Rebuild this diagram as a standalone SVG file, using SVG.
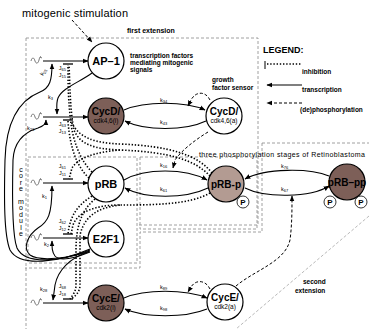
<svg xmlns="http://www.w3.org/2000/svg" width="369" height="329" viewBox="0 0 369 329">
<defs>
<style>
text{font-family:"Liberation Sans",Arial,sans-serif;fill:#000}
.b{font-weight:bold}
.sm{font-size:6.5px;font-weight:bold}
.k{font-size:5.5px}
.nd{stroke:#000;stroke-width:1.2}
.sol{stroke:#000;stroke-width:1.1;fill:none}
.dot{stroke:#000;stroke-width:1.6;stroke-dasharray:1.4 1.8;fill:none}
.dsh{stroke:#000;stroke-width:1;stroke-dasharray:3 2;fill:none}
.box{stroke:#888;stroke-width:0.8;stroke-dasharray:3 2;fill:none}
</style>
<marker id="ar" viewBox="0 0 10 10" refX="9" refY="5" markerWidth="6" markerHeight="6" orient="auto" markerUnits="userSpaceOnUse">
<path d="M0,1 L10,5 L0,9 z" fill="#000"/>
</marker>
<path id="sq" d="M0,3 c1,-4 3,-4 4,0 c1,3 3,3 4,-1 c0.5,-2 1,-4 2,-3 M9,-1 l2,1" fill="none" stroke="#555" stroke-width="0.8"/>
</defs>

<!-- boxes -->
<g id="boxes">
<path class="box" d="M26,38 H258 V225 H138"/>
<path class="box" d="M28,157 H137 V263 H28 Z"/>
<path class="box" d="M140,157 H257 V229 H140 Z"/>
<path class="box" d="M262,143 H369 M262,143 V232 H140 V268 H25 M26,38 V329"/>
<path d="M369,216 L236,329" stroke="#999" stroke-width="0.7" stroke-dasharray="3 2" fill="none"/>
</g>

<text x="22" y="17" font-size="11" textLength="106">mitogenic stimulation</text>
<text x="127" y="33" font-size="7" class="b">first extension</text>
<text x="130" y="58" class="sm">transcription factors</text>
<text x="130" y="65" class="sm">mediating mitogenic</text>
<text x="130" y="72" class="sm">signals</text>
<text x="212" y="82" class="sm">growth</text>
<text x="212" y="90" class="sm">factor sensor</text>
<text x="199" y="157" font-size="7" textLength="166">three phosphorylation stages of Retinoblastoma</text>
<text x="303" y="284" class="sm">second</text>
<text x="295" y="293" class="sm">extension</text>
<text x="21" y="166" font-size="7" letter-spacing="-0.6" style="writing-mode:vertical-rl;text-orientation:upright">core module</text>

<!-- legend -->
<g id="legend">
<text x="263" y="53" font-size="9" class="b">LEGEND:</text>
<line x1="265" y1="61" x2="265" y2="69" stroke="#000" stroke-width="1"/>
<line x1="267" y1="64" x2="302" y2="64" class="dot" stroke-width="1.2"/>
<text x="302" y="74" class="sm">inhibition</text>
<line x1="302" y1="85" x2="267" y2="85" class="sol" stroke-width="1.4" marker-end="url(#ar)"/>
<text x="302" y="92" class="sm">transcription</text>
<line x1="302" y1="103" x2="267" y2="103" class="dsh" marker-end="url(#ar)"/>
<text x="300" y="112" class="sm">(de)phosphorylation</text>
</g>

<!-- connectors -->
<g id="connectors">
<path class="dsh" d="M72,20 L92,42" marker-end="url(#ar)"/>
<!-- inputs -->
<use href="#sq" x="31" y="58"/>
<line class="sol" x1="43" y1="61" x2="88" y2="61" stroke="#555" marker-end="url(#ar)"/>
<use href="#sq" x="31" y="114"/>
<line class="sol" x1="43" y1="117" x2="88" y2="117" marker-end="url(#ar)"/>
<use href="#sq" x="31" y="180"/>
<line class="sol" x1="43" y1="183" x2="88" y2="183" marker-end="url(#ar)"/>
<use href="#sq" x="31" y="235"/>
<line class="sol" x1="43" y1="238" x2="88" y2="238" marker-end="url(#ar)"/>
<use href="#sq" x="31" y="300"/>
<line class="sol" x1="43" y1="303" x2="88" y2="303" marker-end="url(#ar)"/>
<!-- T bars -->
<g stroke="#000" stroke-width="1.3">
<line x1="63" y1="64" x2="73" y2="64"/>
<line x1="63" y1="120" x2="73" y2="120"/>
<line x1="63" y1="179" x2="73" y2="179"/>
<line x1="63" y1="234" x2="73" y2="234"/>
<line x1="63" y1="299" x2="73" y2="299"/>
</g>
<!-- dotted inhibitions -->
<path class="dot" d="M92,172 C80,160 72,140 70,115 C68,95 68,80 68,65"/>
<path class="dot" d="M89,178 C78,168 70,150 68,121"/>
<path class="dot" d="M210,176 C195,160 170,152 120,150 C95,149 80,145 74,130 C70,110 70,85 69,65"/>
<path class="dot" d="M212,173 C198,155 170,146 120,144 C95,143 78,138 71,121"/>
<path class="dot" d="M120,150 C95,152 78,158 72,168 L69,179"/>
<path class="dot" d="M92,196 C78,205 70,215 68,234"/>
<path class="dot" d="M95,199 C82,210 76,225 76,250 V285 C76,292 72,296 70,299"/>
<path class="dot" d="M210,193 C190,205 150,205 120,205 C95,205 78,212 73,225 L71,234"/>
<path class="dot" d="M120,205 C95,208 84,218 80,235 V285 C80,293 74,297 71,299"/>
<!-- transcription -->
<path class="sol" d="M92,73 C80,82 62,88 58,98 C56,103 57,108 57,114" marker-end="url(#ar)"/>
<path class="sol" d="M90,249 C60,262 20,268 10,250 C4,235 4,200 5,160 C6,120 20,100 40,92 C50,88 52,80 52,64" marker-end="url(#ar)"/>
<path class="sol" d="M90,250 C60,262 25,265 17,248 C12,235 12,200 13,160 C14,140 25,132 38,128 C44,126 46,124 46,120" marker-end="url(#ar)"/>
<path class="sol" d="M90,251 C70,258 40,262 30,255 C22,248 28,235 38,228 C48,222 52,215 52,186" marker-end="url(#ar)"/>
<path class="sol" d="M90,252 C75,258 60,262 55,256 C52,252 52,248 52,241" marker-end="url(#ar)"/>
<path class="sol" d="M88,252 C70,258 58,270 55,285 L53,300" marker-end="url(#ar)"/>
<!-- CycD reactions -->
<path class="sol" d="M124,110 C145,101 185,101 205,110" marker-end="url(#ar)"/>
<path class="sol" d="M206,121 C185,131 145,131 125,121" marker-end="url(#ar)"/>
<path class="dsh" d="M210,100 C205,90 195,92 191,100 L188,106" marker-end="url(#ar)"/>
<!-- pRB reactions -->
<path class="sol" d="M124,180 C145,168 185,168 207,180" marker-end="url(#ar)"/>
<path class="sol" d="M208,188 C185,199 145,199 125,188" marker-end="url(#ar)"/>
<path class="dsh" d="M208,132 C195,140 182,150 175,160 L173,168" marker-end="url(#ar)"/>
<path class="sol" d="M329,176 C310,168 265,168 245,179" marker-end="url(#ar)"/>
<path class="sol" d="M245,188 C265,198 310,198 329,186" marker-end="url(#ar)"/>
<path class="dsh" d="M236,286 C255,270 285,262 290,240 C292,225 292,210 292,196" marker-end="url(#ar)"/>
<!-- CycE reactions -->
<path class="sol" d="M124,298 C145,289 185,289 207,298" marker-end="url(#ar)"/>
<path class="sol" d="M207,309 C185,318 145,318 125,309" marker-end="url(#ar)"/>
<path class="dsh" d="M210,289 C205,279 195,280 191,287 L188,292" marker-end="url(#ar)"/>
</g>

<!-- labels -->
<g class="k">
<text x="160" y="102">k<tspan font-size="4" dy="1">34</tspan></text>
<text x="160" y="124">k<tspan font-size="4" dy="1">43</tspan></text>
<text x="160" y="167">k<tspan font-size="4" dy="1">16</tspan></text>
<text x="160" y="191">k<tspan font-size="4" dy="1">61</tspan></text>
<text x="281" y="168">k<tspan font-size="4" dy="1">76</tspan></text>
<text x="281" y="191">k<tspan font-size="4" dy="1">67</tspan></text>
<text x="160" y="289">k<tspan font-size="4" dy="1">89</tspan></text>
<text x="160" y="310">k<tspan font-size="4" dy="1">98</tspan></text>
<text x="48" y="99">k<tspan font-size="4" dy="1">3</tspan></text>
<text x="27" y="130">k<tspan font-size="4" dy="1">23</tspan></text>
<text x="39" y="75" transform="rotate(-60 42 72)">k<tspan font-size="4" dy="1">25</tspan></text>
<text x="42" y="198">k<tspan font-size="4" dy="1">1</tspan></text>
<text x="44" y="246">k<tspan font-size="4" dy="1">2</tspan></text>
<text x="40" y="291">k<tspan font-size="4" dy="1">28</tspan></text>
<g text-anchor="end">
<text x="66" y="70">J<tspan font-size="4" dy="1">65</tspan></text>
<text x="66" y="77">J<tspan font-size="4" dy="1">15</tspan></text>
<text x="66" y="126">J<tspan font-size="4" dy="1">63</tspan></text>
<text x="66" y="133">J<tspan font-size="4" dy="1">13</tspan></text>
<text x="66" y="168">J<tspan font-size="4" dy="1">61</tspan></text>
<text x="66" y="175">J<tspan font-size="4" dy="1">11</tspan></text>
<text x="66" y="223">J<tspan font-size="4" dy="1">62</tspan></text>
<text x="66" y="230">J<tspan font-size="4" dy="1">12</tspan></text>
<text x="66" y="288">J<tspan font-size="4" dy="1">68</tspan></text>
<text x="66" y="295">J<tspan font-size="4" dy="1">18</tspan></text>
</g>
</g>

<!-- nodes -->
<g id="AP1"><circle class="nd" cx="106" cy="61" r="18" fill="#fff"/><text x="106" y="65" font-size="11" class="b" text-anchor="middle">AP–1</text></g>
<g id="CycDi"><circle class="nd" cx="106" cy="116" r="18" fill="#7d5f58"/><text x="106" y="115" font-size="10" class="b" text-anchor="middle">CycD/</text><text x="106" y="123" font-size="6.5" text-anchor="middle">cdk4,6(i)</text></g>
<g id="CycDa"><circle class="nd" cx="224" cy="116" r="18" fill="#fff"/><text x="224" y="115" font-size="10" class="b" text-anchor="middle">CycD/</text><text x="224" y="123" font-size="6.5" text-anchor="middle">cdk4,6(a)</text></g>
<g id="pRB"><circle class="nd" cx="106" cy="184" r="18" fill="#fff"/><text x="106" y="188" font-size="11" class="b" text-anchor="middle">pRB</text></g>
<g id="pRBp"><circle class="nd" cx="226" cy="184" r="18" fill="#b39b92"/><text x="226" y="188" font-size="10" class="b" text-anchor="middle">pRB-p</text>
<circle cx="243" cy="202" r="6" fill="#fff" stroke="#000" stroke-width="0.8"/><text x="243" y="205" font-size="8" class="b" text-anchor="middle">P</text></g>
<g id="pRBpp"><circle class="nd" cx="347" cy="182" r="18" fill="#7d5f58"/><text x="347" y="186" font-size="10" class="b" text-anchor="middle">pRB–pp</text>
<circle cx="330" cy="202" r="6" fill="#fff" stroke="#000" stroke-width="0.8"/><text x="330" y="205" font-size="8" class="b" text-anchor="middle">P</text>
<circle cx="361" cy="202" r="6" fill="#fff" stroke="#000" stroke-width="0.8"/><text x="361" y="205" font-size="8" class="b" text-anchor="middle">P</text></g>
<g id="E2F1"><circle class="nd" cx="106" cy="239" r="18" fill="#fff"/><text x="106" y="243" font-size="11" class="b" text-anchor="middle">E2F1</text></g>
<g id="CycEi"><circle class="nd" cx="106" cy="303" r="18" fill="#7d5f58"/><text x="106" y="302" font-size="10" class="b" text-anchor="middle">CycE/</text><text x="106" y="310" font-size="6.5" text-anchor="middle">cdk2(i)</text></g>
<g id="CycEa"><circle class="nd" cx="225" cy="302" r="18" fill="#fff"/><text x="225" y="301" font-size="10" class="b" text-anchor="middle">CycE/</text><text x="225" y="309" font-size="6.5" text-anchor="middle">cdk2(a)</text></g>
</svg>
